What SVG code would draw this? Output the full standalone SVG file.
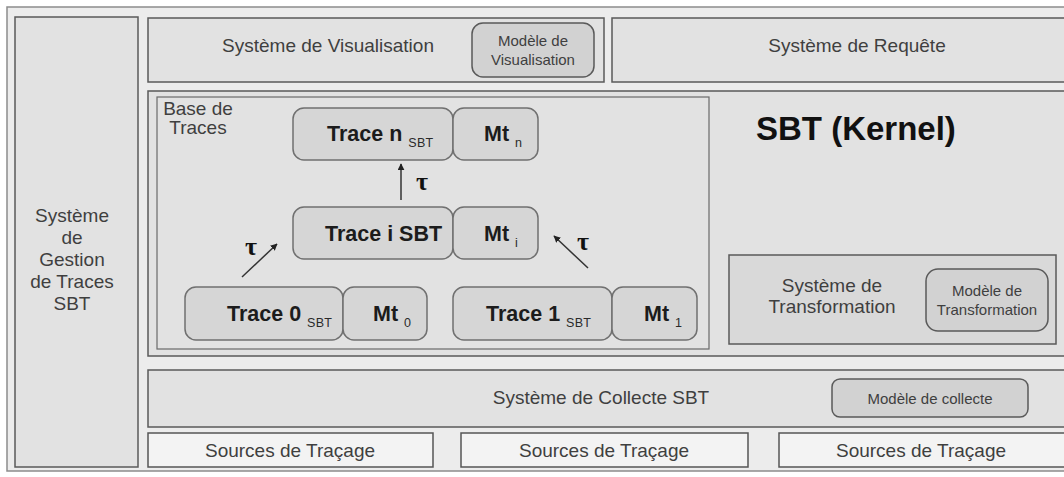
<svg xmlns="http://www.w3.org/2000/svg" width="1064" height="477" viewBox="0 0 1064 477">
  <defs>
    <marker id="ah" viewBox="0 0 10 10" refX="9" refY="5" markerWidth="7" markerHeight="7" markerUnits="userSpaceOnUse" orient="auto">
      <path d="M0,0 L10,5 L0,10 z" fill="#222"/>
    </marker>
  </defs>
  <style>
    .frame{fill:#ececec;stroke:#8c8c8c;stroke-width:1.5}
    .box{fill:#e2e2e2;stroke:#5a5a5a;stroke-width:1.5}
    .inner{fill:#e2e2e2;stroke:#6a6a6a;stroke-width:1.2}
    .trans{fill:#d9d9d9;stroke:#5a5a5a;stroke-width:1.5}
    .trace{fill:#d6d6d6;stroke:#707070;stroke-width:1.5}
    .model{fill:#d2d2d2;stroke:#5a5a5a;stroke-width:1.5}
    .src{fill:#f3f3f3;stroke:#555;stroke-width:1.5}
    text{font-family:"Liberation Sans",Arial,sans-serif;fill:#3f3f3f}
    .t{font-size:19px}
    .s{font-size:15px}
    .b{font-size:21.5px;font-weight:bold;fill:#1c1c1c}
    .sub{font-size:12.5px;font-weight:normal;fill:#2a2a2a;letter-spacing:0.3px}
    .k{font-size:33px;font-weight:bold;fill:#111}
    .tau{font-family:"Liberation Serif","Times New Roman",serif;font-size:26px;font-weight:bold;fill:#111}
    .c{text-anchor:middle}
    .conn{stroke:#333;stroke-width:1.5;fill:none}
  </style>

  <rect x="0" y="0" width="1064" height="477" fill="#ffffff"/>
  <rect id="frame" class="frame" x="7" y="7" width="1070" height="464"/>

  <g id="gestion">
    <rect class="box" x="15" y="17" width="123" height="450"/>
    <text class="t c" x="72" y="222">Système</text>
    <text class="t c" x="72" y="244">de</text>
    <text class="t c" x="72" y="266">Gestion</text>
    <text class="t c" x="72" y="288">de Traces</text>
    <text class="t c" x="72" y="310">SBT</text>
  </g>

  <g id="visualisation">
    <rect class="box" x="148" y="18" width="456" height="64"/>
    <text class="t c" x="328" y="52">Système de Visualisation</text>
  </g>
  <g id="modele-visualisation">
    <rect class="model" x="472" y="23" width="122" height="54" rx="11"/>
    <text class="s c" x="533" y="46">Modèle de</text>
    <text class="s c" x="533" y="65">Visualisation</text>
  </g>

  <g id="requete">
    <rect class="box" x="612" y="18" width="460" height="64"/>
    <text class="t c" x="857" y="52">Système de Requête</text>
  </g>

  <g id="kernel">
    <rect class="box" x="148" y="91" width="924" height="265"/>
    <text class="k" x="756" y="140">SBT (Kernel)</text>
  </g>

  <g id="base-traces">
    <rect class="inner" x="157" y="97" width="552" height="252"/>
    <text class="t c" x="198" y="115">Base de</text>
    <text class="t c" x="198" y="134">Traces</text>
  </g>

  <g id="trace-n">
    <rect class="trace" x="293" y="108" width="160" height="52" rx="11"/>
    <text class="b" x="327" y="141">Trace n <tspan class="sub" dy="6">SBT</tspan></text>
  </g>
  <g id="mt-n">
    <rect class="trace" x="453" y="108" width="85" height="52" rx="11"/>
    <text class="b" x="484" y="141">Mt <tspan class="sub" dy="6">n</tspan></text>
  </g>

  <g id="trace-i">
    <rect class="trace" x="293" y="207" width="160" height="52" rx="11"/>
    <text class="b" x="325" y="241">Trace i SBT</text>
  </g>
  <g id="mt-i">
    <rect class="trace" x="453" y="207" width="85" height="52" rx="11"/>
    <text class="b" x="484" y="241">Mt <tspan class="sub" dy="6">i</tspan></text>
  </g>

  <g id="trace-0">
    <rect class="trace" x="185" y="287" width="158" height="53" rx="11"/>
    <text class="b" x="227" y="321">Trace 0 <tspan class="sub" dy="6">SBT</tspan></text>
  </g>
  <g id="mt-0">
    <rect class="trace" x="343" y="287" width="84" height="53" rx="11"/>
    <text class="b" x="373" y="321">Mt <tspan class="sub" dy="6">0</tspan></text>
  </g>

  <g id="trace-1">
    <rect class="trace" x="453" y="287" width="159" height="53" rx="11"/>
    <text class="b" x="486" y="321">Trace 1 <tspan class="sub" dy="6">SBT</tspan></text>
  </g>
  <g id="mt-1">
    <rect class="trace" x="612" y="287" width="85" height="53" rx="11"/>
    <text class="b" x="644" y="321">Mt <tspan class="sub" dy="6">1</tspan></text>
  </g>

  <g id="connectors">
    <line class="conn" x1="401" y1="200" x2="401" y2="164" marker-end="url(#ah)"/>
    <line class="conn" x1="242" y1="277" x2="277" y2="244" marker-end="url(#ah)"/>
    <line class="conn" x1="588" y1="268" x2="554" y2="236" marker-end="url(#ah)"/>
    <text class="tau c" x="422" y="190">τ</text>
    <text class="tau c" x="251" y="255">τ</text>
    <text class="tau c" x="583" y="250">τ</text>
  </g>

  <g id="transformation">
    <rect class="trans" x="729" y="255" width="327" height="89"/>
    <text class="t c" x="832" y="292">Système de</text>
    <text class="t c" x="832" y="313">Transformation</text>
  </g>
  <g id="modele-transformation">
    <rect class="model" x="926" y="269" width="122" height="62" rx="12"/>
    <text class="s c" x="987" y="296">Modèle de</text>
    <text class="s c" x="987" y="315">Transformation</text>
  </g>

  <g id="collecte">
    <rect class="box" x="148" y="370" width="924" height="57"/>
    <text class="t c" x="601" y="404">Système de Collecte SBT</text>
  </g>
  <g id="modele-collecte">
    <rect class="model" x="832" y="379" width="196" height="38" rx="8"/>
    <text class="s c" x="930" y="404">Modèle de collecte</text>
  </g>

  <g id="sources-1">
    <rect class="src" x="148" y="433" width="285" height="34"/>
    <text class="t c" x="290" y="457">Sources de Traçage</text>
  </g>
  <g id="sources-2">
    <rect class="src" x="461" y="433" width="287" height="34"/>
    <text class="t c" x="604" y="457">Sources de Traçage</text>
  </g>
  <g id="sources-3">
    <rect class="src" x="779" y="433" width="300" height="34"/>
    <text class="t c" x="921" y="457">Sources de Traçage</text>
  </g>
</svg>
